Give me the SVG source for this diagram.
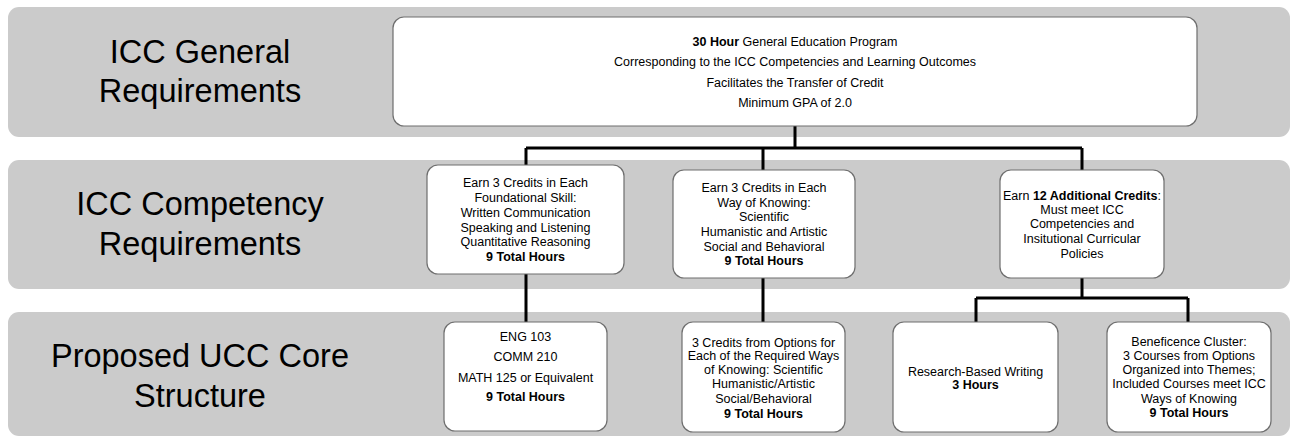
<svg xmlns="http://www.w3.org/2000/svg" width="1291" height="436" viewBox="0 0 1291 436">
<style>
.band{fill:#cbcbcb;}
.box{fill:#ffffff;stroke:#6e6e6e;stroke-width:1.2;}
.lbl{font-family:"Liberation Sans",Arial,sans-serif;font-size:32.5px;fill:#000;text-anchor:middle;}
.t{font-family:"Liberation Sans",Arial,sans-serif;font-size:12.5px;fill:#000;text-anchor:middle;}
.b{font-weight:bold;}
.conn{fill:none;stroke:#000;stroke-width:3;}
</style>
<rect width="1291" height="436" fill="#ffffff"/>
<g id="bands">
<rect class="band" x="8" y="7" width="1282" height="130" rx="11"/>
<rect class="band" x="8" y="160" width="1282" height="129" rx="11"/>
<rect class="band" x="8" y="312" width="1282" height="124" rx="11"/>
<text class="lbl" x="200" y="63">ICC General</text>
<text class="lbl" x="200" y="102">Requirements</text>
<text class="lbl" x="200" y="215">ICC Competency</text>
<text class="lbl" x="200" y="255">Requirements</text>
<text class="lbl" x="200" y="367">Proposed UCC Core</text>
<text class="lbl" x="200" y="407">Structure</text>
</g>
<g id="connectors">
<path class="conn" d="M795,126 V148 M526,148 H1082 M526,148 V165 M763,148 V170 M1082,148 V170"/>
<path class="conn" d="M526,274 V322 M763,278 V322"/>
<path class="conn" d="M1082,278 V298 M976,298 H1188 M976,298 V322 M1188,298 V322"/>
</g>
<g id="n-general">
<rect class="box" x="393" y="17" width="804" height="109" rx="11"/>
<text class="t" x="795" y="46"><tspan class="b">30 Hour</tspan> General Education Program</text>
<text class="t" x="795" y="66">Corresponding to the ICC Competencies and Learning Outcomes</text>
<text class="t" x="795" y="87">Facilitates the Transfer of Credit</text>
<text class="t" x="795" y="107">Minimum GPA of 2.0</text>
</g>
<g id="n-foundational">
<rect class="box" x="427" y="165" width="197" height="109" rx="11"/>
<text class="t" x="525.5" y="187">Earn 3 Credits in Each</text>
<text class="t" x="525.5" y="202">Foundational Skill:</text>
<text class="t" x="525.5" y="217">Written Communication</text>
<text class="t" x="525.5" y="232">Speaking and Listening</text>
<text class="t" x="525.5" y="246">Quantitative Reasoning</text>
<text class="t b" x="525.5" y="261">9 Total Hours</text>
</g>
<g id="n-knowing">
<rect class="box" x="673" y="170" width="182" height="108" rx="11"/>
<text class="t" x="764" y="192">Earn 3 Credits in Each</text>
<text class="t" x="764" y="207">Way of Knowing:</text>
<text class="t" x="764" y="221">Scientific</text>
<text class="t" x="764" y="236">Humanistic and Artistic</text>
<text class="t" x="764" y="251">Social and Behavioral</text>
<text class="t b" x="764" y="265">9 Total Hours</text>
</g>
<g id="n-additional">
<rect class="box" x="1000" y="170" width="164" height="108" rx="11"/>
<text class="t" x="1082" y="200">Earn <tspan class="b">12 Additional Credits</tspan>:</text>
<text class="t" x="1082" y="214">Must meet ICC</text>
<text class="t" x="1082" y="228">Competencies and</text>
<text class="t" x="1082" y="243">Insitutional Curricular</text>
<text class="t" x="1082" y="258">Policies</text>
</g>
<g id="n-courses">
<rect class="box" x="444" y="322" width="163" height="109" rx="11"/>
<text class="t" x="525.5" y="341">ENG 103</text>
<text class="t" x="525.5" y="361">COMM 210</text>
<text class="t" x="525.5" y="382">MATH 125 or Equivalent</text>
<text class="t b" x="525.5" y="401">9 Total Hours</text>
</g>
<g id="n-options">
<rect class="box" x="682" y="322" width="163" height="110" rx="11"/>
<text class="t" x="763.5" y="347">3 Credits from Options for</text>
<text class="t" x="763.5" y="360">Each of the Required Ways</text>
<text class="t" x="763.5" y="374">of Knowing: Scientific</text>
<text class="t" x="763.5" y="388">Humanistic/Artistic</text>
<text class="t" x="763.5" y="403">Social/Behavioral</text>
<text class="t b" x="763.5" y="418">9 Total Hours</text>
</g>
<g id="n-research">
<rect class="box" x="893" y="322" width="165" height="110" rx="11"/>
<text class="t" x="975.5" y="376">Research-Based Writing</text>
<text class="t b" x="975.5" y="389">3 Hours</text>
</g>
<g id="n-beneficence">
<rect class="box" x="1107" y="322" width="164" height="110" rx="11"/>
<text class="t" x="1189" y="346">Beneficence Cluster:</text>
<text class="t" x="1189" y="360">3 Courses from Options</text>
<text class="t" x="1189" y="374">Organized into Themes;</text>
<text class="t" x="1189" y="388">Included Courses meet ICC</text>
<text class="t" x="1189" y="403">Ways of Knowing</text>
<text class="t b" x="1189" y="417">9 Total Hours</text>
</g>
</svg>
